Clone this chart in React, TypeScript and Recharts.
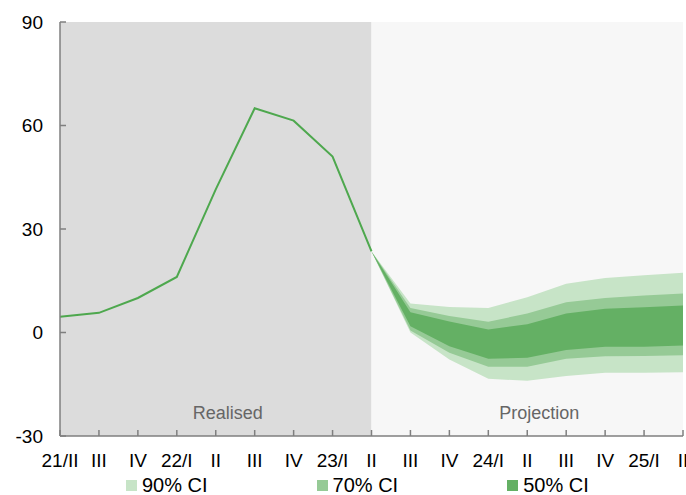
import React from "react";
import {
  ComposedChart,
  Area,
  Line,
  XAxis,
  YAxis,
  ReferenceArea,
} from "recharts";

const quarters = ["21/II", "III", "IV", "22/I", "II", "III", "IV", "23/I", "II", "III", "IV", "24/I", "II", "III", "IV", "25/I", "II"];
const realised = [4.6, 5.7, 10.0, 16.1, 41.5, 65.0, 61.4, 51.0, 23.5];

// projection fan starts at 23/II (index 8)
const hi90 = [23.5, 8.4, 7.4, 7.1, 10.2, 14.1, 15.8, 16.6, 17.3];
const hi70 = [23.5, 7.1, 4.8, 3.1, 5.5, 8.8, 10.0, 10.7, 11.3];
const hi50 = [23.5, 5.9, 3.2, 0.9, 2.4, 5.5, 6.9, 7.3, 7.8];
const lo50 = [23.5, 1.8, -4.0, -7.6, -7.3, -5.1, -4.1, -4.1, -3.8];
const lo70 = [23.5, 0.6, -5.9, -9.9, -9.9, -7.6, -6.9, -6.8, -6.6];
const lo90 = [23.5, 0.0, -7.8, -13.4, -14.0, -12.6, -11.7, -11.7, -11.5];
const projStart = 8;

const yTicks = [-30, 0, 30, 60, 90];

const LIGHT = "#c7e4c7";
const MID = "#96ca96";
const DARK = "#64b064";
const AXIS = "#7f7f7f";
const FONT = "'Liberation Sans', Arial, sans-serif";

const data = quarters.map((q, i) => {
  const j = i - projStart;
  const row: any = { i, q, realised: i < realised.length ? realised[i] : null };
  if (j >= 0) {
    row.ci90 = [lo90[j], hi90[j]];
    row.ci70 = [lo70[j], hi70[j]];
    row.ci50 = [lo50[j], hi50[j]];
  }
  return row;
});

const legendItems = [
  { label: "90% CI", color: LIGHT },
  { label: "70% CI", color: MID },
  { label: "50% CI", color: DARK },
];

const zoneLabel = (text: string) => (props: any) => {
  const vb = props.viewBox;
  if (!vb) return null;
  return (
    <text
      x={vb.x + vb.width / 2 + 12}
      y={vb.y + vb.height - 17}
      textAnchor="middle"
      fill="#666"
      fontSize={18}
      fontFamily={FONT}
    >
      {text}
    </text>
  );
};

export default function App() {
  const tickStyle = { fill: "#000", fontSize: 19, fontFamily: FONT };
  return (
    <div style={{ position: "absolute", left: 0, top: 0, width: 686, height: 495, background: "#fff", fontFamily: FONT }}>
      <ComposedChart width={686} height={495} data={data} margin={{ top: 22, right: 3, bottom: 0, left: 0 }}>
        <ReferenceArea x1={0} x2={8} y1={-30} y2={90} fill="#dcdcdc" fillOpacity={1} stroke="none" label={zoneLabel("Realised")} />
        <ReferenceArea x1={8} x2={16} y1={-30} y2={90} fill="#f7f7f7" fillOpacity={1} stroke="none" label={zoneLabel("Projection")} />
        <XAxis
          dataKey="i"
          type="number"
          domain={[0, 16]}
          ticks={quarters.map((_, i) => i)}
          interval={0}
          tickFormatter={(v) => quarters[v]}
          height={59}
          tickSize={-6}
          tickMargin={24}
          tick={tickStyle}
          axisLine={{ stroke: AXIS, strokeWidth: 1.5 }}
          tickLine={{ stroke: AXIS, strokeWidth: 1.5 }}
        />
        <XAxis
          xAxisId="top"
          orientation="top"
          dataKey="i"
          type="number"
          domain={[0, 16]}
          ticks={quarters.map((_, i) => i)}
          interval={0}
          height={0}
          tickSize={-6}
          tick={false}
          axisLine={{ stroke: AXIS, strokeWidth: 1.5 }}
          tickLine={{ stroke: AXIS, strokeWidth: 1.5 }}
        />
        <YAxis
          domain={[-30, 90]}
          ticks={yTicks}
          interval={0}
          width={60}
          tickSize={-6}
          tickMargin={23}
          tick={tickStyle}
          axisLine={{ stroke: AXIS, strokeWidth: 1.5 }}
          tickLine={{ stroke: AXIS, strokeWidth: 1.5 }}
        />
        <YAxis
          yAxisId="right"
          orientation="right"
          domain={[-30, 90]}
          ticks={yTicks}
          interval={0}
          width={0}
          tickSize={-6}
          tick={false}
          axisLine={{ stroke: AXIS, strokeWidth: 1.5 }}
          tickLine={{ stroke: AXIS, strokeWidth: 1.5 }}
        />
        <Area dataKey="ci90" type="linear" fill={LIGHT} fillOpacity={1} stroke="none" isAnimationActive={false} />
        <Area dataKey="ci70" type="linear" fill={MID} fillOpacity={1} stroke="none" isAnimationActive={false} />
        <Area dataKey="ci50" type="linear" fill={DARK} fillOpacity={1} stroke="none" isAnimationActive={false} />
        <Line dataKey="realised" type="linear" stroke="#4ea84e" strokeWidth={2} dot={false} isAnimationActive={false} />
      </ComposedChart>
      <div style={{ position: "absolute", left: 126, top: 476, width: 520, height: 18, display: "flex", gap: 109, fontSize: 20, lineHeight: "18px", color: "#000" }}>
        {legendItems.map((it) => (
          <div key={it.label} style={{ display: "flex", alignItems: "center", whiteSpace: "nowrap", flexShrink: 0 }}>
            <span style={{ display: "inline-block", width: 11, height: 11, background: it.color, marginRight: 5, flexShrink: 0 }} />
            <span>{it.label}</span>
          </div>
        ))}
      </div>
    </div>
  );
}
